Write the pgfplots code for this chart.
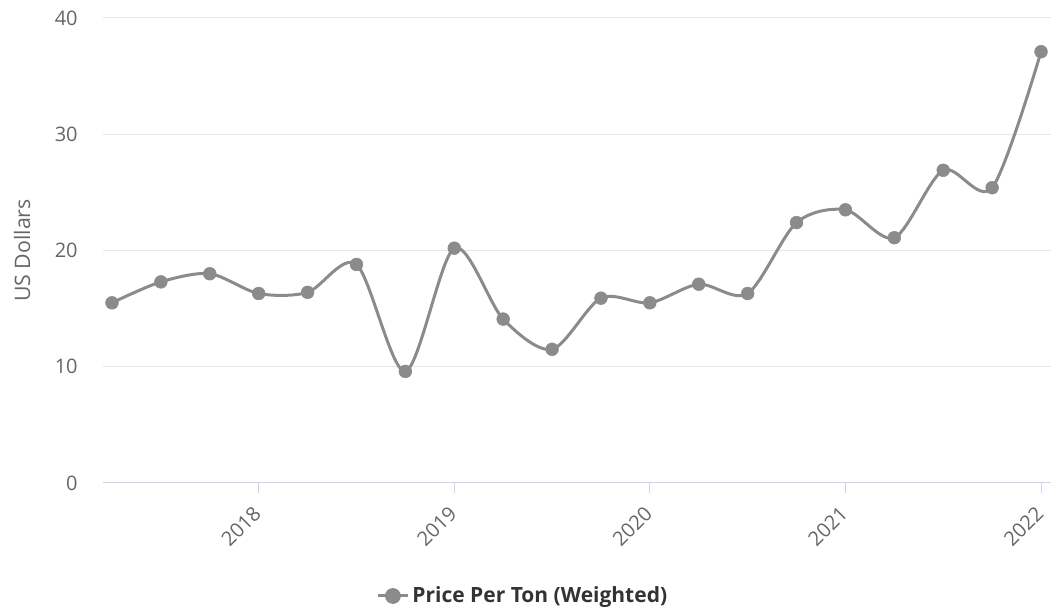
\documentclass[border=0pt]{standalone}
\usepackage{fontspec}
\setmainfont{Open Sans}
\usepackage{pgfplots}
\pgfplotsset{compat=1.18}
\definecolor{linegray}{RGB}{139,139,141}
\definecolor{axisblue}{HTML}{CCD6EB}
\definecolor{gridgray}{HTML}{E6E6E6}
\definecolor{labelgray}{HTML}{666666}
\definecolor{legendtext}{HTML}{333333}
\begin{document}
\begin{tikzpicture}
\begin{axis}[
  at={(0,0)}, anchor=south west,
  scale only axis, width=711pt, height=348.75pt,
  xmin=2017.204, xmax=2022.051, ymin=0, ymax=40,
  axis lines*=left,
  x axis line style={draw=axisblue, line width=0.75pt},
  y axis line style={draw=none},
  xtick={2018,2019,2020,2021,2022},
  xticklabels={2018,2019,2020,2021,2022},
  ytick={0,10,20,30,40},
  tick align=outside,
  major tick length=7.5pt,
  xtick style={draw=axisblue, line width=0.75pt},
  ytick style={draw=none},
  ymajorgrids,
  grid style={draw=gridgray, line width=0.75pt},
  /pgf/number format/assume math mode=true,
  /pgf/number format/1000 sep={},
  ticklabel style={font=\fontsize{15}{18}\selectfont, text=labelgray},
  xticklabel style={xshift=-5pt, yshift=-7.5pt, rotate=45, anchor=north east, inner sep=1pt},
  yticklabel style={anchor=east, xshift=-8pt},
  ylabel={US Dollars},
  ylabel style={at={(axis description cs:-0.0854,0.5)}, anchor=center, font=\fontsize{16}{19}\selectfont, text=labelgray},
  legend style={at={(axis description cs:0.443,-0.243)}, anchor=center, draw=none, fill=none,
    font=\bfseries\fontsize{15.75}{19}\selectfont, text=legendtext},
  legend image code/.code={\draw[linegray, line width=2.25pt] (0pt,0pt) -- (23pt,0pt); \fill[linegray] (11.5pt,0pt) circle (4.8pt);},
  clip=false
]
\addplot[linegray, line width=2.25pt, smooth, tension=0.5, mark=*, mark size=4.8pt,
  mark options={fill=linegray, draw=linegray, line width=0.4pt}] coordinates {
  (2017.25,15.5) (2017.5,17.3) (2017.75,18.0) (2018.0,16.3) (2018.25,16.4)
  (2018.5,18.8) (2018.75,9.6) (2019.0,20.2) (2019.25,14.1) (2019.5,11.5)
  (2019.75,15.9) (2020.0,15.5) (2020.25,17.1) (2020.5,16.3) (2020.75,22.4)
  (2021.0,23.5) (2021.25,21.1) (2021.5,26.9) (2021.75,25.4) (2022.0,37.1)
};
\addlegendentry{Price Per Ton (Weighted)}
\end{axis}
\pgfresetboundingbox
\useasboundingbox (-77.25pt,-94.5pt) rectangle (711pt,362.25pt);
\end{tikzpicture}
\end{document}
